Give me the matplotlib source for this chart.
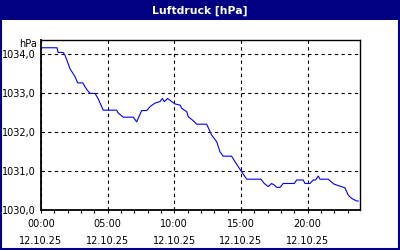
import matplotlib
matplotlib.use("Agg")
import matplotlib.pyplot as plt
from matplotlib.patches import Rectangle
from matplotlib.ticker import FuncFormatter, MultipleLocator

# data: hours since 00:00 on 12.10.25, pressure in hPa
hours = [0.0, 1.2, 1.28, 1.65, 1.8, 2.18, 2.55, 2.75, 3.13, 3.43, 3.68, 4.05,
         4.28, 4.67, 5.68, 5.78, 6.17, 6.92, 7.18, 7.55, 7.93, 8.18, 8.55,
         8.93, 9.1, 9.25, 9.5, 9.8, 10.05, 10.43, 10.55, 10.93, 11.05, 11.42,
         11.68, 12.43, 12.8, 13.18, 13.43, 13.67, 14.3, 14.55, 14.8, 15.05,
         15.43, 16.5, 16.75, 17.05, 17.3, 17.5, 17.68, 17.93, 18.17, 19.0,
         19.18, 19.67, 19.8, 20.18, 20.42, 20.6, 20.8, 20.93, 21.55, 21.75,
         22.0, 22.8, 23.05, 23.3, 23.68, 23.8]
pressure = [1034.16, 1034.16, 1034.04, 1034.04, 1033.97, 1033.62, 1033.42,
            1033.26, 1033.26, 1033.09, 1032.99, 1032.99, 1032.86, 1032.56,
            1032.56, 1032.49, 1032.38, 1032.38, 1032.26, 1032.55, 1032.55,
            1032.65, 1032.74, 1032.78, 1032.86, 1032.78, 1032.86, 1032.78,
            1032.72, 1032.69, 1032.61, 1032.52, 1032.39, 1032.29, 1032.2,
            1032.2, 1031.92, 1031.75, 1031.49, 1031.38, 1031.38, 1031.24,
            1031.11, 1030.98, 1030.79, 1030.79, 1030.68, 1030.6, 1030.68,
            1030.64, 1030.58, 1030.58, 1030.68, 1030.68, 1030.77, 1030.77,
            1030.68, 1030.68, 1030.77, 1030.77, 1030.87, 1030.79, 1030.79,
            1030.73, 1030.66, 1030.57, 1030.38, 1030.3, 1030.23, 1030.23]
xticks = [0, 5, 10, 15, 20]
xticklabels = ["00:00\n12.10.25", "05:00\n12.10.25", "10:00\n12.10.25",
               "15:00\n12.10.25", "20:00\n12.10.25"]
yticks = [1030, 1031, 1032, 1033, 1034]

navy = "#000080"
W, H = 400, 250

fig = plt.figure(figsize=(4, 2.5), dpi=100)
fig.patch.set_facecolor("white")

# title bar and frame
fig.patches.append(Rectangle((0, 1 - 20 / H), 1, 20 / H, transform=fig.transFigure,
                             facecolor=navy, edgecolor="none", zorder=0))
fig.patches.append(Rectangle((0.5 / W, 1 / H), 1 - 2 / W, 1 - 2 / H,
                             transform=fig.transFigure, facecolor="none",
                             edgecolor=navy, linewidth=1.5, zorder=5))
fig.text(0.5, 1 - 11 / H, "Luftdruck [hPa]", color="white", fontsize=7.8,
         fontweight="bold", ha="center", va="center")

ax = fig.add_axes([41 / W, 1 - 210 / H, 319 / W, 170 / H])
ax.plot(hours, pressure, color="#0000ff", linewidth=0.8)

ax.set_xlim(0, 23.93)
ax.set_ylim(1030, 1030 + 170 / 39)
ax.set_xticks(xticks)
ax.set_xticklabels(xticklabels, fontsize=7, linespacing=1.85)
ax.xaxis.set_minor_locator(MultipleLocator(1))
ax.set_yticks(yticks)
ax.yaxis.set_major_formatter(FuncFormatter(lambda v, p: f"{v:.1f}".replace(".", ",")))
ax.tick_params(axis="y", length=0, labelsize=7, pad=4)
ax.tick_params(axis="x", which="both", direction="out", length=2.5, width=0.8, pad=4)

ax.grid(True, color="black", linestyle=(0, (3, 3)), linewidth=0.8)
for s in ax.spines.values():
    s.set_linewidth(1.0)
ax.spines["left"].set_linewidth(1.3)
ax.spines["bottom"].set_linewidth(1.3)

fig.text(37 / W, 1 - 44 / H, "hPa", fontsize=7, ha="right", va="center")

fig.savefig("out.png", dpi=100)
